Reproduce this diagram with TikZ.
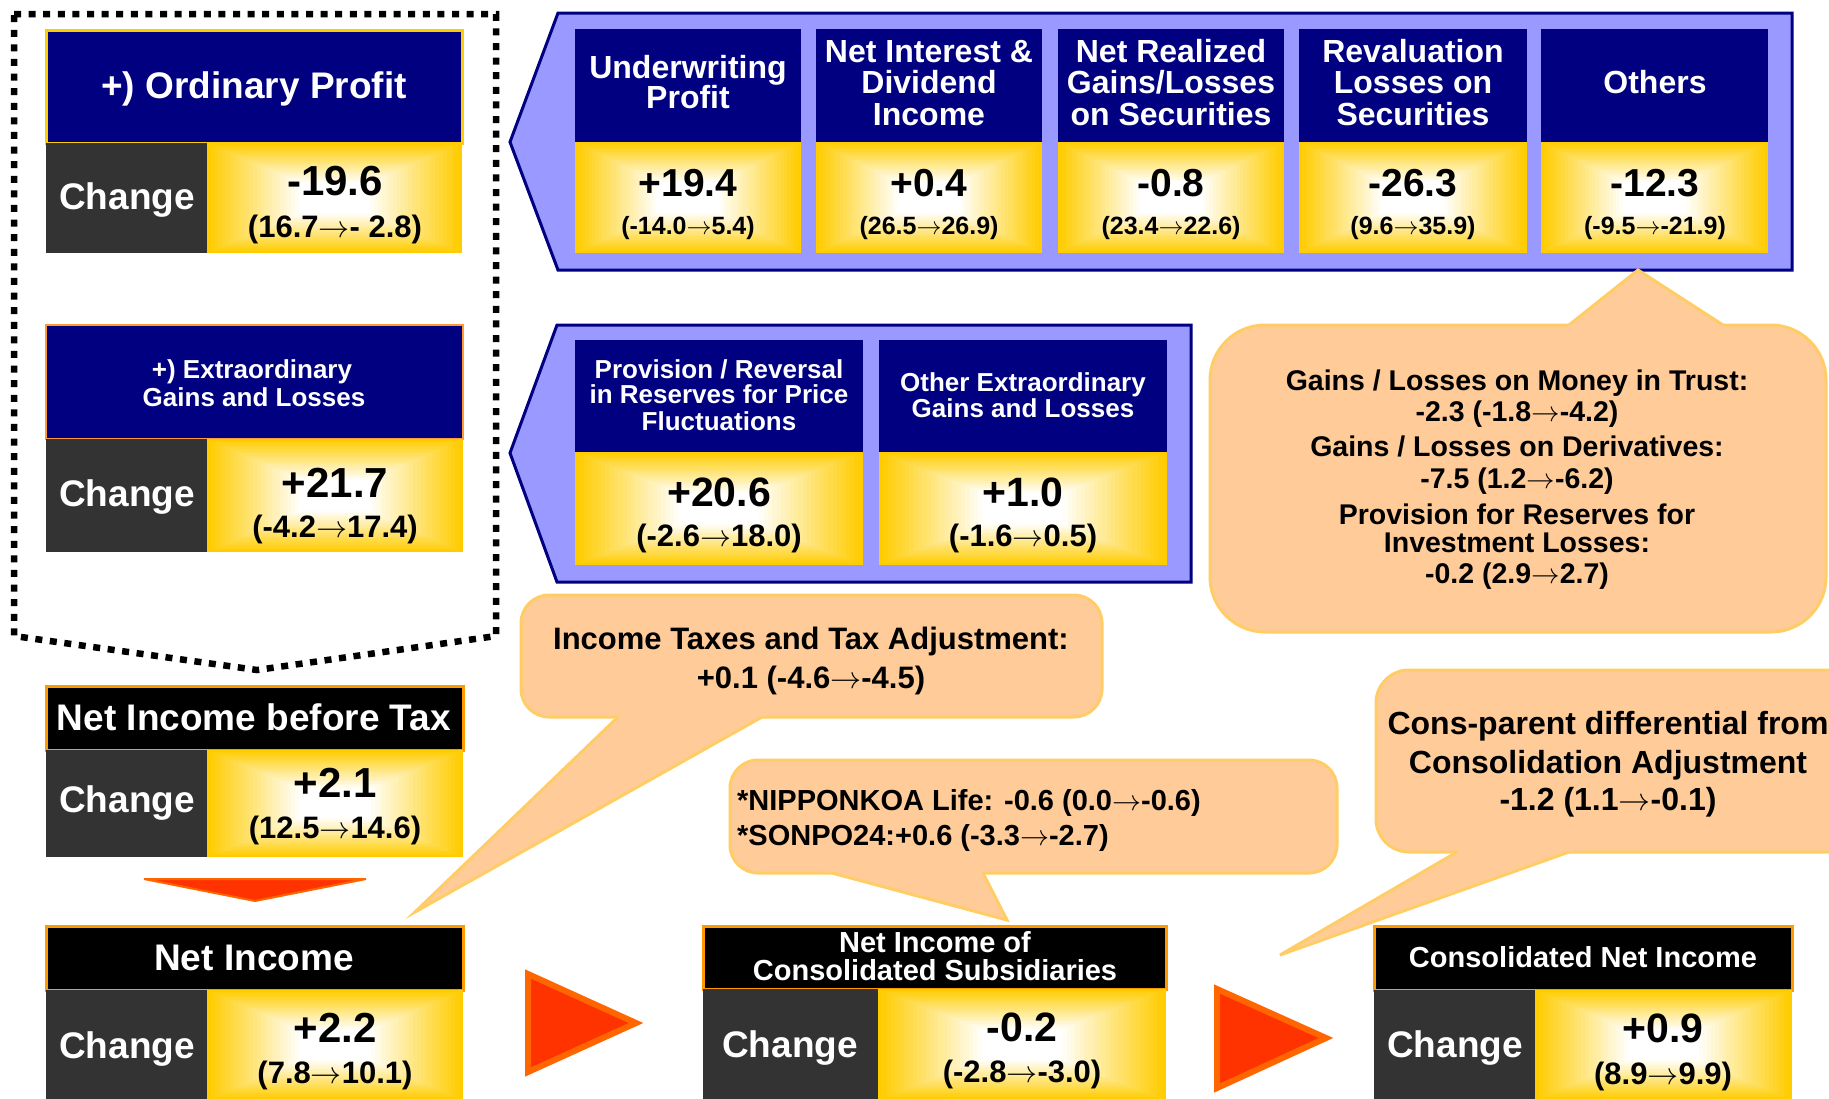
\RequirePackage{fix-cm}
\documentclass[tikz,border=0pt]{standalone}
\usepackage{fontspec}
\setmainfont{Liberation Sans}
\usetikzlibrary{calc}
\definecolor{navyc}{HTML}{000080}
\definecolor{goldc}{HTML}{FFCC00}
\definecolor{dgrey}{HTML}{333333}
\definecolor{chev}{HTML}{9999FF}
\definecolor{callfill}{HTML}{FFCC99}
\definecolor{callline}{HTML}{FFCC66}
\definecolor{arrfill}{HTML}{FF3300}
\definecolor{arrline}{HTML}{FF6600}
\definecolor{obord}{HTML}{FF9900}
\definecolor{obordb}{HTML}{FF9933}
\newcommand\fs[1]{\fontsize{#1}{#1}\selectfont\bfseries}
\newcommand\ra{\ensuremath{\rightarrow}}
\newcommand\TL[6][]{\pgfmathsetmacro\tlh{0.75*#5}\pgfmathsetmacro\tld{0.19*#5}%
  \node[anchor=base,inner sep=0pt,text height=\tlh pt,text depth=\tld pt,font=\fs{#5},#1] (#2) at (#3,{#4+0.358*#5}) {#6};}
\newcommand\bx[6]{\node[#1,inner sep=0pt,outer sep=0pt,minimum width={#5-#3},minimum height={#6-#4}] (#2) at ({(#3+#5)/2},{(#4+#6)/2}) {};}
\tikzset{
  navyhdr/.style={fill=navyc},
  hdrY/.style={fill=navyc,draw=goldc,line width=3},
  hdrO/.style={fill=navyc,draw=obordb,line width=2.5},
  blackhdr/.style={fill=black,draw=obord,line width=3},
  dark/.style={fill=dgrey},
  goldcell/.style={fill=goldc,path picture={
    \foreach \i in {0,...,24}{
      \pgfmathsetmacro\gpp{100*(1-\i/24)}
      \pgfmathsetmacro\gtt{0.72*\i/24}
      \fill[goldc!\gpp!white] ($(path picture bounding box.south west)!\gtt!(path picture bounding box.center)$) rectangle ($(path picture bounding box.north east)!\gtt!(path picture bounding box.center)$);
    }}},
  chevstyle/.style={fill=chev,draw=navyc,line width=3,line join=miter},
  tri/.style={fill=arrfill,draw=arrline,line join=miter},
  callbox/.style={fill=callfill,draw=callline,line width=3},
  callside/.style={draw=callline,line width=3},
  wt/.style={text=white},
}
\begin{document}
\begin{tikzpicture}[x=1pt,y=-1pt]
\useasboundingbox[fill=white] (0,0) rectangle (1829,1098);

% dotted frame
\coordinate (f1) at (14,14);
\coordinate (f2) at (496,14);
\coordinate (f3) at (496,636);
\coordinate (f4) at (257,670);
\coordinate (f5) at (14,636);
\draw[line width=6.5,dash pattern=on 7 off 7.6] (f1) -- (f2) -- (f3) -- (f4) -- (f5) -- cycle;

% chevrons
\draw[chevstyle] (510,142) -- (558,13) -- (1792,13) -- (1792,270) -- (558,270) -- cycle;
\draw[chevstyle] (510,453) -- (557,325) -- (1191,325) -- (1191,582) -- (557,582) -- cycle;

% top row cells
\bx{navyhdr}{h1}{575}{29}{801}{142}
\bx{navyhdr}{h2}{816}{29}{1042}{142}
\bx{navyhdr}{h3}{1058}{29}{1284}{142}
\bx{navyhdr}{h4}{1299}{29}{1527}{142}
\bx{navyhdr}{h5}{1541}{29}{1768}{142}
\bx{goldcell}{v1}{575}{142}{801}{253}
\bx{goldcell}{v2}{816}{142}{1042}{253}
\bx{goldcell}{v3}{1058}{142}{1284}{253}
\bx{goldcell}{v4}{1299}{142}{1527}{253}
\bx{goldcell}{v5}{1541}{142}{1768}{253}

% second chevron cells
\bx{navyhdr}{e1}{575}{340}{863}{452}
\bx{navyhdr}{e2}{879}{340}{1167}{452}
\bx{goldcell}{ev1}{575}{452}{863}{565}
\bx{goldcell}{ev2}{879}{452}{1167}{565}

% left column
\bx{hdrY}{opH}{46}{30}{462}{143}
\bx{dark}{opC}{46}{143}{207}{253}
\bx{goldcell}{opV}{207}{143}{462}{253}

\bx{hdrO}{exH}{46}{325}{463}{439}
\bx{dark}{exC}{46}{439}{207}{552}
\bx{goldcell}{exV}{207}{439}{463}{552}

\bx{blackhdr}{btH}{46}{686}{463}{750}
\bx{dark}{btC}{46}{750}{207}{857}
\bx{goldcell}{btV}{207}{750}{463}{857}

\bx{blackhdr}{niH}{46}{926}{463}{990}
\bx{dark}{niC}{46}{990}{207}{1100}
\bx{goldcell}{niV}{207}{990}{463}{1100}

\bx{blackhdr}{nsH}{703}{926}{1166}{989}
\bx{dark}{nsC}{703}{989}{878}{1100}
\bx{goldcell}{nsV}{878}{989}{1166}{1100}

\bx{blackhdr}{cnH}{1374}{926}{1792}{990}
\bx{dark}{cnC}{1374}{990}{1535}{1100}
\bx{goldcell}{cnV}{1535}{990}{1792}{1100}

% triangles
\draw[tri,line width=2] (144,879) -- (366,879) -- (255,901) -- cycle;
\draw[tri,line width=6] (528,974) -- (636,1023) -- (528,1072) -- cycle;
\draw[tri,line width=6] (1217,989) -- (1326,1038) -- (1217,1088) -- cycle;

% callout: big
\draw[callbox,rounded corners=55] (1210,325) rectangle (1826,632);
\coordinate (bgA) at (1638,270);
\coordinate (bgB1) at (1569,325);
\coordinate (bgB2) at (1723,325);
\fill[callfill] (bgA) -- ($(bgB1)!-7pt!(bgA)$) -- ($(bgB2)!-7pt!(bgA)$) -- cycle;
\draw[callside] (bgB1) -- (bgA) -- (bgB2);

% callout: income taxes
\draw[callbox,rounded corners=28] (521,595) rectangle (1102,717);
\coordinate (itA) at (415,912);
\coordinate (itB1) at (618,717);
\coordinate (itB2) at (762,717);
\fill[callfill] (itA) -- ($(itB1)!-7pt!(itA)$) -- ($(itB2)!-7pt!(itA)$) -- cycle;
\draw[callside] (itB1) -- (itA) -- (itB2);

% callout: nipponkoa
\draw[callbox,rounded corners=28] (730,760) rectangle (1337,873);
\coordinate (npA) at (1007,920);
\coordinate (npB1) at (832,873);
\coordinate (npB2) at (983,873);
\fill[callfill] (npA) -- ($(npB1)!-7pt!(npA)$) -- ($(npB2)!-7pt!(npA)$) -- cycle;
\draw[callside] (npB1) -- (npA) -- (npB2);

% callout: cons-parent
\draw[callbox,rounded corners=33] (1376,670) rectangle (1900,852);
\coordinate (cpA) at (1280,955);
\coordinate (cpB1) at (1457,852);
\coordinate (cpB2) at (1569,852);
\fill[callfill] (cpA) -- ($(cpB1)!-7pt!(cpA)$) -- ($(cpB2)!-7pt!(cpA)$) -- cycle;
\draw[callside] (cpB1) -- (cpA) -- (cpB2);

% ---- texts ----
% top row headers
\TL[wt]{t1a}{688}{67}{32}{Underwriting}
\TL[wt]{t1b}{688}{97}{32}{Profit}
\TL[wt]{t2a}{929}{51}{32}{Net Interest \&}
\TL[wt]{t2b}{929}{82}{32}{Dividend}
\TL[wt]{t2c}{929}{114}{32}{Income}
\TL[wt]{t3a}{1171}{51}{32}{Net Realized}
\TL[wt]{t3b}{1171}{82}{32}{Gains/Losses}
\TL[wt]{t3c}{1171}{114}{32}{on Securities}
\TL[wt]{t4a}{1413}{51}{32}{Revaluation}
\TL[wt]{t4b}{1413}{82}{32}{Losses on}
\TL[wt]{t4c}{1413}{114}{32}{Securities}
\TL[wt]{t5a}{1655}{82}{32}{Others}
% top row values
\TL{n1a}{688}{183}{39}{+19.4}
\TL{n1b}{688}{226}{25}{(-14.0\ra5.4)}
\TL{n2a}{929}{183}{39}{+0.4}
\TL{n2b}{929}{226}{25}{(26.5\ra26.9)}
\TL{n3a}{1171}{183}{39}{-0.8}
\TL{n3b}{1171}{226}{25}{(23.4\ra22.6)}
\TL{n4a}{1413}{183}{39}{-26.3}
\TL{n4b}{1413}{226}{25}{(9.6\ra35.9)}
\TL{n5a}{1655}{183}{39}{-12.3}
\TL{n5b}{1655}{226}{25}{(-9.5\ra-21.9)}

% second chevron texts
\TL[wt]{p1a}{719}{369}{26}{Provision / Reversal}
\TL[wt]{p1b}{719}{394}{26}{in Reserves for Price}
\TL[wt]{p1c}{719}{421}{26}{Fluctuations}
\TL[wt]{p2a}{1023}{382}{26}{Other Extraordinary}
\TL[wt]{p2b}{1023}{408}{26}{Gains and Losses}
\TL{pv1a}{719}{492}{41}{+20.6}
\TL{pv1b}{719}{535}{31}{(-2.6\ra18.0)}
\TL{pv2a}{1023}{492}{41}{+1.0}
\TL{pv2b}{1023}{535}{31}{(-1.6\ra0.5)}

% left column texts
\TL[wt]{opT}{254}{85}{37}{+) Ordinary Profit}
\TL[wt]{opCt}{127}{196}{37}{Change}
\TL{opVa}{335}{180}{42}{-19.6}
\TL{opVb}{335}{226}{31}{(16.7\ra- 2.8)}

\TL[wt]{exTa}{252}{369}{26}{+) Extraordinary}
\TL[wt]{exTb}{254}{397}{26}{Gains and Losses}
\TL[wt]{exCt}{127}{493}{37}{Change}
\TL{exVa}{335}{482}{42}{+21.7}
\TL{exVb}{335}{526}{31}{(-4.2\ra17.4)}

\TL[wt]{btT}{254}{717}{37}{Net Income before Tax}
\TL[wt]{btCt}{127}{799}{37}{Change}
\TL{btVa}{335}{782}{42}{+2.1}
\TL{btVb}{335}{827}{31}{(12.5\ra14.6)}

\TL[wt]{niT}{254}{957}{37}{Net Income}
\TL[wt]{niCt}{127}{1045}{37}{Change}
\TL{niVa}{335}{1027}{42}{+2.2}
\TL{niVb}{335}{1072}{31}{(7.8\ra10.1)}

\TL[wt]{nsTa}{935}{942}{29}{Net Income of}
\TL[wt]{nsTb}{935}{970}{29}{Consolidated Subsidiaries}
\TL[wt]{nsCt}{790}{1044}{37}{Change}
\TL{nsVa}{1022}{1027}{41}{-0.2}
\TL{nsVb}{1022}{1071}{31}{(-2.8\ra-3.0)}

\TL[wt]{cnT}{1583}{957}{29}{Consolidated Net Income}
\TL[wt]{cnCt}{1455}{1044}{37}{Change}
\TL{cnVa}{1663}{1028}{41}{+0.9}
\TL{cnVb}{1663}{1073}{31}{(8.9\ra9.9)}

% callout texts
\TL{bg1}{1517}{380}{28.5}{Gains / Losses on Money in Trust:}
\TL{bg2}{1517}{411}{28.5}{-2.3 (-1.8\ra-4.2)}
\TL{bg3}{1517}{446}{28.5}{Gains / Losses on Derivatives:}
\TL{bg4}{1517}{478}{28.5}{-7.5 (1.2\ra-6.2)}
\TL{bg5}{1517}{514}{28.5}{Provision for Reserves for}
\TL{bg6}{1517}{542}{28.5}{Investment Losses:}
\TL{bg7}{1517}{573}{28.5}{-0.2 (2.9\ra2.7)}

\TL{it1}{811}{638}{31}{Income Taxes and Tax Adjustment:}
\TL{it2}{811}{677}{31}{+0.1 (-4.6\ra-4.5)}

\TL[anchor=base west]{np1}{737}{800}{29}{*NIPPONKOA Life: -0.6 (0.0\ra-0.6)}
\TL[anchor=base west]{np2}{737}{835}{29}{*SONPO24:+0.6 (-3.3\ra-2.7)}

\TL{cp1}{1608}{723}{32}{Cons-parent differential from}
\TL{cp2}{1608}{762}{32}{Consolidation Adjustment}
\TL{cp3}{1608}{799}{32}{-1.2 (1.1\ra-0.1)}
\end{tikzpicture}
\end{document}
